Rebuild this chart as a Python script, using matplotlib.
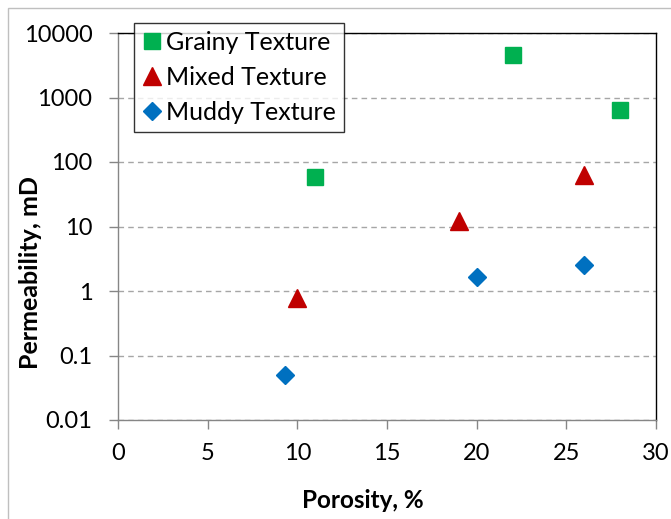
import numpy as np
import matplotlib.pyplot as plt
from matplotlib.patches import Rectangle

# porosity (%) and permeability (mD) per texture class
grainy_por = [11, 22, 28]
grainy_perm = [58, 4500, 640]
mixed_por = [10, 19, 26]
mixed_perm = [0.78, 12, 63]
muddy_por = [9.3, 20, 26]
muddy_perm = [0.05, 1.65, 2.5]

y_ticks = [0.01, 0.1, 1, 10, 100, 1000, 10000]
y_tick_labels = ["0.01", "0.1", "1", "10", "100", "1000", "10000"]
x_ticks = [0, 5, 10, 15, 20, 25, 30]

plt.rcParams['font.family'] = ['Lato', 'DejaVu Sans']

fig = plt.figure(figsize=(6.71, 5.19), dpi=100)
ax = fig.add_axes([118/671, 1 - 420/519, 538/671, 387/519])

# outer chart border
fig.patches.append(Rectangle((8/671, -0.1), 1.2, 1 - 8/519 + 0.1,
                             transform=fig.transFigure, fill=False,
                             edgecolor="#bfbfbf", linewidth=1.0))

ax.plot(grainy_por, grainy_perm, 's', color="#00B050", ms=12,
        mec="#00B050", label="Grainy Texture", zorder=3)
ax.plot(mixed_por, mixed_perm, '^', color="#C00000", ms=13,
        mec="#C00000", label="Mixed Texture", zorder=3)
ax.plot(muddy_por, muddy_perm, 'D', color="#0070C0", ms=9,
        mec="#0070C0", label="Muddy Texture", zorder=3)

ax.set_yscale("log")
ax.set_ylim(0.01, 10000)
ax.set_xlim(0, 30)
ax.set_yticks(y_ticks)
ax.set_yticklabels(y_tick_labels)
ax.yaxis.set_minor_locator(plt.NullLocator())
ax.set_xticks(x_ticks)

ax.grid(axis="y", linestyle=(0, (4, 3)), color="#a6a6a6", linewidth=1.0)
ax.set_axisbelow(True)

for side in ["top", "right"]:
    ax.spines[side].set_color("black")
    ax.spines[side].set_linewidth(1.0)
for side in ["left", "bottom"]:
    ax.spines[side].set_color("#868686")
    ax.spines[side].set_linewidth(1.0)

ax.tick_params(axis="both", direction="out", length=6.5, width=1.0,
               color="#868686", labelsize=17)
ax.tick_params(axis="y", pad=12)
ax.tick_params(axis="x", pad=10)

ax.set_xlabel("Porosity, %", fontsize=17.5, fontweight="bold")
ax.set_ylabel("Permeability, mD", fontsize=18, fontweight="bold")
ax.xaxis.set_label_coords(0.455, -0.178)
ax.yaxis.set_label_coords(-0.141, 0.382)

leg = ax.legend(loc="upper left", bbox_to_anchor=(134/671, 1 - 23/519),
                bbox_transform=fig.transFigure, fontsize=18,
                frameon=True, fancybox=False, edgecolor="black",
                borderpad=0.3, handletextpad=0.2, handlelength=0.8,
                labelspacing=0.49, borderaxespad=0)
leg.get_frame().set_linewidth(1.0)
leg.set_zorder(5)

plt.savefig("out.png", dpi=100)
